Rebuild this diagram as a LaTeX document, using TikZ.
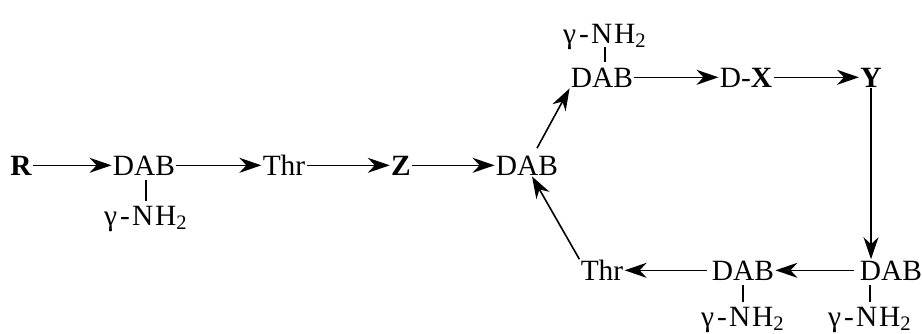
\documentclass[tikz,border=0pt]{standalone}
\usepackage{fontspec}
\setmainfont{Liberation Serif}
\usetikzlibrary{arrows.meta, calc}

\newcommand{\gnh}{γ\kern1.5pt-\kern1pt N\kern1pt H\textsubscript{2}}

\begin{document}
\begin{tikzpicture}[x=0.5pt, y=-0.5pt,
  res/.style={inner sep=0.5pt, text height=9.7pt, text depth=0pt, anchor=base,
              font=\fontsize{14.7}{17}\selectfont},
  amine/.style={inner sep=0pt, text height=9.7pt, text depth=0pt, anchor=base,
                font=\fontsize{14.7}{17}\selectfont},
  link/.style={-{Stealth[length=11pt, width=7.5pt, inset=3.5pt]}, line width=0.8pt},
  bond/.style={line width=0.6pt, shorten <=2pt, shorten >=2pt}
]
  \useasboundingbox (0,0) rectangle (922,333);

  % main row
  \node[res] (r)    at (21,175)  {\textbf{R}};
  \node[res] (dabA) at (144,175) {DAB};
  \node[res] (thrA) at (284,175) {Thr};
  \node[res] (z)    at (401,175) {\textbf{Z}};
  \node[res] (dabB) at (527,175) {DAB};
  % upper row
  \node[res] (dabC) at (602,87)  {DAB};
  \node[res] (dx)   at (746,87)  {D-\textbf{X}};
  \node[res] (y)    at (871,87)  {\textbf{Y}};
  % lower row
  \node[res] (dabD) at (891,280) {DAB};
  \node[res] (dabE) at (743,280) {DAB};
  \node[res] (thrB) at (602,280) {Thr};

  % side chains
  \node[amine] (nhA) at (146,225) {\gnh};
  \node[amine] (nhC) at (605,43)  {\gnh};
  \node[amine] (nhE) at (743,326) {\gnh};
  \node[amine] (nhD) at (870,326) {\gnh};
  \draw[bond] (nhA.north |- dabA.south) -- (nhA.north);
  \draw[bond] (nhC.south |- dabC.north) -- (nhC.south);
  \draw[bond] (nhE.north |- dabE.south) -- (nhE.north);
  \draw[bond] (nhD.north |- dabD.south) -- (nhD.north);

  % chain
  \draw[link] (r) -- (dabA);
  \draw[link] (dabA) -- (thrA);
  \draw[link] (thrA) -- (z);
  \draw[link] (z) -- (dabB);
  \draw[link] ([xshift=5pt,yshift=3pt]dabB.north) -- (dabC.south west);
  \draw[link] (dabC) -- (dx);
  \draw[link] (dx) -- (y);
  \draw[link] (y) -- (y |- dabD.north);
  \draw[link, shorten <=2.5pt] (dabD) -- (dabE);
  \draw[link, shorten <=2pt] (dabE) -- (thrB);
  \draw[link] (thrB.north west) -- ([xshift=2.5pt]dabB.south);
\end{tikzpicture}
\end{document}
